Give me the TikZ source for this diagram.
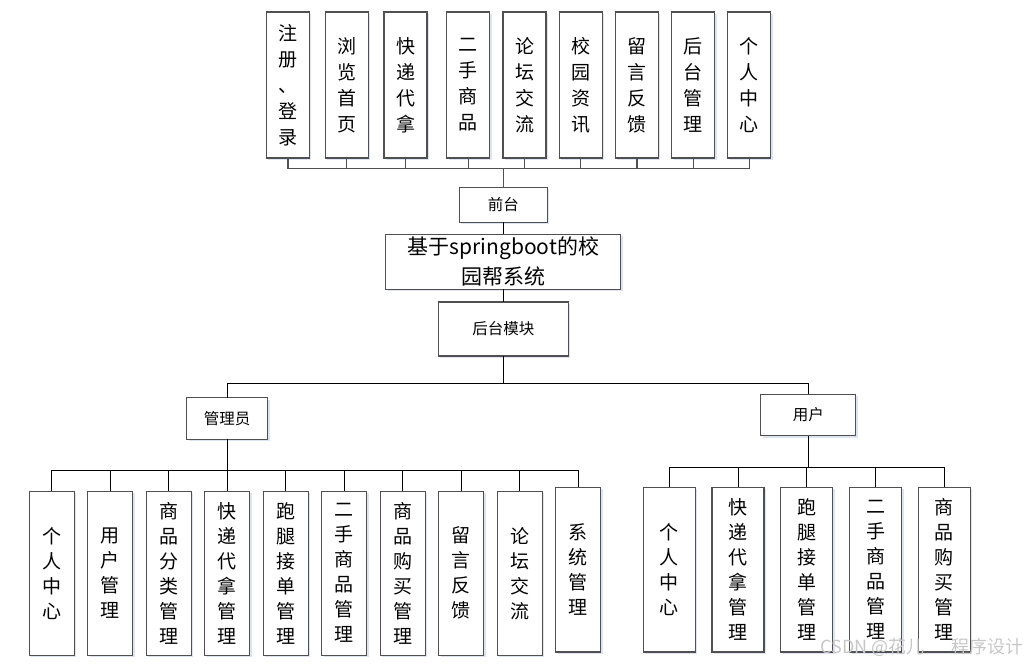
\documentclass[tikz,border=0pt]{standalone}
\usepackage{fontspec}
\setmainfont{Noto Sans CJK SC}
\usetikzlibrary{shadows}
\definecolor{boxline}{HTML}{505050}
\definecolor{glow}{HTML}{9DB3D6}
\tikzset{
  box/.style={draw=boxline, line width=1.3pt, fill=white, inner sep=0pt,
    align=center, drop shadow={shadow xshift=1.8pt, shadow yshift=-1.8pt,
    fill=glow, opacity=0.35}},
  topbox/.style={box, minimum width=43pt, minimum height=146pt,
    font=\fontsize{19}{26}\selectfont},
  subbox/.style={box, minimum width=45pt, minimum height=164pt,
    font=\fontsize{19}{25}\selectfont},
  userbox/.style={box, minimum width=52pt, minimum height=164.7pt,
    font=\fontsize{19}{25}\selectfont},
  labelbox/.style={box, font=\fontsize{15.5}{18}\selectfont},
  tree/.style={line width=1pt, black},
  toptree/.style={line width=1.2pt, boxline}
}
\begin{document}
\begin{tikzpicture}[x=1pt, y=-1pt, line cap=rect]
  \useasboundingbox (0,0) rectangle (1031,665);
  % Front-end pages.
  \node[topbox] (t1) at (288,85) {注\\册\\、\\登\\录};
  \node[topbox] (t2) at (346.7,85) {浏\\览\\首\\页};
  \node[topbox] (t3) at (405.5,85) {快\\递\\代\\拿};
  \node[topbox] (t4) at (468.3,85) {二\\手\\商\\品};
  \node[topbox] (t5) at (524.5,85) {论\\坛\\交\\流};
  \node[topbox] (t6) at (580.7,85) {校\\园\\资\\讯};
  \node[topbox] (t7) at (637,85) {留\\言\\反\\馈};
  \node[topbox] (t8) at (693.3,85) {后\\台\\管\\理};
  \node[topbox] (t9) at (749.3,85) {个\\人\\中\\心};
  % Middle column.
  \node[labelbox, minimum width=88pt, minimum height=35pt] (front) at (503.3,204.8) {前台};
  \node[box, minimum width=235pt, minimum height=55pt,
    font=\fontsize{21}{30}\selectfont] (sys) at (503.3,261.7) {基于springboot的校\\园帮系统};
  \node[labelbox, minimum width=130pt, minimum height=54pt] (back) at (503.3,329) {后台模块};
  \node[labelbox, minimum width=81pt, minimum height=41.6pt] (admin) at (227.2,418.5) {管理员};
  \node[labelbox, minimum width=95pt, minimum height=41.4pt] (user) at (808.3,415) {用户};
  % Admin modules.
  \node[subbox] (a1) at (51.7,573.3) {个\\人\\中\\心};
  \node[subbox] (a2) at (110.2,573.3) {用\\户\\管\\理};
  \node[subbox] (a3) at (168.7,573.3) {商\\品\\分\\类\\管\\理};
  \node[subbox] (a4) at (227.2,573.3) {快\\递\\代\\拿\\管\\理};
  \node[subbox] (a5) at (285.8,573.3) {跑\\腿\\接\\单\\管\\理};
  \node[subbox] (a6) at (344.2,573.3) {二\\手\\商\\品\\管\\理};
  \node[subbox] (a7) at (402.8,573.3) {商\\品\\购\\买\\管\\理};
  \node[subbox] (a8) at (461.2,573.3) {留\\言\\反\\馈};
  \node[subbox] (a9) at (519.8,573.3) {论\\坛\\交\\流};
  \node[subbox, minimum height=164.7pt] (a10) at (578.2,569.7) {系\\统\\管\\理};
  % User modules.
  \node[userbox] (u1) at (669.2,569.7) {个\\人\\中\\心};
  \node[userbox] (u2) at (738,569.7) {快\\递\\代\\拿\\管\\理};
  \node[userbox] (u3) at (806.7,569.7) {跑\\腿\\接\\单\\管\\理};
  \node[userbox] (u4) at (875.7,569.7) {二\\手\\商\\品\\管\\理};
  \node[userbox] (u5) at (944.3,569.7) {商\\品\\购\\买\\管\\理};
  % Bus points.
  \coordinate (topbus) at (503.3,168.7);
  \coordinate (midbus) at (503.3,383.3);
  \coordinate (adminbus) at (227.2,470.3);
  \coordinate (userbus) at (808.3,467.3);
  % Front-end tree.
  \draw[toptree] (front.north) -- (topbus);
  \draw[toptree] (topbus) -| (t1.south);
  \draw[toptree] (topbus) -| (t2.south);
  \draw[toptree] (topbus) -| (t3.south);
  \draw[toptree] (topbus) -| (t4.south);
  \draw[toptree] (topbus) -| (t5.south);
  \draw[toptree] (topbus) -| (t6.south);
  \draw[toptree] (topbus) -| (t7.south);
  \draw[toptree] (topbus) -| (t8.south);
  \draw[toptree] (topbus) -| (t9.south);
  % Spine.
  \draw[tree] (front.south) -- (sys.north);
  \draw[tree] (sys.south) -- (back.north);
  \draw[tree] (back.south) -- (midbus);
  \draw[tree] (midbus) -| (admin.north);
  \draw[tree] (midbus) -| (user.north);
  % Admin tree.
  \draw[tree] (admin.south) -- (adminbus);
  \draw[tree] (adminbus) -| (a1.north);
  \draw[tree] (adminbus) -| (a2.north);
  \draw[tree] (adminbus) -| (a3.north);
  \draw[tree] (adminbus) -| (a4.north);
  \draw[tree] (adminbus) -| (a5.north);
  \draw[tree] (adminbus) -| (a6.north);
  \draw[tree] (adminbus) -| (a7.north);
  \draw[tree] (adminbus) -| (a8.north);
  \draw[tree] (adminbus) -| (a9.north);
  \draw[tree] (adminbus) -| (a10.north);
  % User tree.
  \draw[tree] (user.south) -- (userbus);
  \draw[tree] (userbus) -| (u1.north);
  \draw[tree] (userbus) -| (u2.north);
  \draw[tree] (userbus) -| (u3.north);
  \draw[tree] (userbus) -| (u4.north);
  \draw[tree] (userbus) -| (u5.north);
  % Watermark.
  \node[text=black!22, font=\fontsize{18}{20}\selectfont, anchor=east] (mark) at (1027,647) {CSDN @花儿\enspace\quad 程序设计};
\end{tikzpicture}
\end{document}
